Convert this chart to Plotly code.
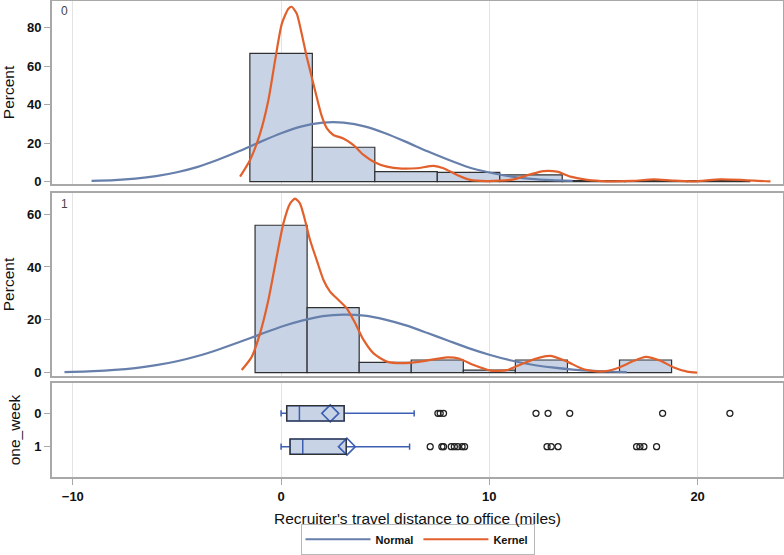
import plotly.graph_objects as go

# ---------------- data ----------------
# Histogram, one_week = 0 (bin width 3)
hist0_centers = [0, 3, 6, 9, 12, 15, 18, 21]
hist0_pct = [66.8, 17.9, 5.2, 4.8, 3.5, 0.6, 0.6, 0.6]
hist0_width = 3.0

# Histogram, one_week = 1 (bin width 2.5)
hist1_centers = [0, 2.5, 5, 7.5, 10, 12.5, 15, 17.5]
hist1_pct = [55.8, 24.6, 3.9, 4.8, 1.0, 4.8, 0.0, 4.8]
hist1_width = 2.5

# Normal curve, group 0
norm0_x = [-9.1, -8, -7, -6, -5, -4, -3, -2, -1, 0, 1, 2, 2.5, 3, 4, 5, 6, 7, 8, 9, 10, 11, 12, 13, 14]
norm0_y = [0.4, 0.8, 1.6, 2.9, 4.9, 7.7, 11.5, 15.9, 20.7, 25.2, 28.8, 30.7, 31.0, 30.7, 28.8, 25.2,
           20.7, 15.9, 11.5, 7.5, 4.8, 2.8, 1.5, 0.8, 0.4]

# Kernel curve, group 0
kern0_x = [-1.97, -1.49, -1.01, -0.61, -0.29, 0.03, 0.35, 0.51, 0.75, 0.99, 1.23, 1.47, 1.71, 1.96,
           2.2, 2.51, 2.99, 3.48, 3.96, 4.44, 5.08, 5.8, 6.52, 7.32, 7.8, 8.45, 9.09, 9.89, 10.5,
           11.17, 11.97, 12.6, 13.25, 13.9, 14.7, 15.66, 16.9, 17.9, 18.86, 19.8, 21.1, 22.07, 22.7, 23.5]
kern0_y = [2.6, 11.3, 25.0, 42.4, 63.0, 82.0, 90.0, 91.0, 87.5, 77.0, 65.0, 54.5, 44.0, 33.8,
           27.7, 24.3, 22.5, 19.0, 13.9, 10.4, 7.8, 6.8, 7.0, 8.2, 7.0, 3.5, 0.9, 0.3, 0.5,
           1.2, 3.8, 5.5, 5.2, 2.6, 0.9, 0.2, 0.4, 1.2, 0.5, 0.2, 1.2, 0.9, 0.5, 0.2]

# Normal curve, group 1
norm1_x = [-10.4, -10, -9, -8, -7, -6, -5, -4, -3, -2, -1, 0, 1, 2, 3, 4, 5, 6, 7, 8, 9, 10, 11,
           12, 13, 14, 15, 16, 16.6]
norm1_y = [0.24, 0.32, 0.59, 1.05, 1.77, 2.85, 4.35, 6.34, 8.8, 11.6, 14.5, 17.4, 19.7, 21.4, 22.0,
           21.6, 20.1, 17.9, 15.1, 12.2, 9.3, 6.8, 4.7, 3.1, 2.0, 1.2, 0.67, 0.36, 0.24]

# Kernel curve, group 1
kern1_x = [-1.89, -1.41, -1.01, -0.61, -0.21, 0.11, 0.43, 0.67, 0.91, 1.15, 1.39, 1.71, 2.04, 2.36,
           2.76, 3.16, 3.56, 3.96, 4.44, 5.08, 5.8, 6.68, 7.97, 8.53, 9.25, 10.05, 10.85, 11.65,
           12.45, 13.01, 13.73, 14.53, 15.34, 16.14, 16.94, 17.5, 18.22, 18.86, 19.5, 19.98]
kern1_y = [1.0, 6.0, 14.9, 27.5, 43.9, 56.5, 64.0, 65.9, 64.0, 57.7, 50.2, 42.6, 35.0, 30.6,
           27.5, 24.3, 18.7, 12.4, 7.3, 4.2, 3.6, 4.2, 5.8, 5.4, 2.9, 0.8, 1.0, 3.6,
           5.8, 6.3, 4.2, 1.3, 0.4, 1.7, 4.5, 6.0, 4.5, 2.0, 0.4, 0.0]

# Box plot statistics
box_groups = [0, 1]
box_labels = ["0", "1"]
box_min = [0.0, 0.0]
box_q1 = [0.27, 0.43]
box_median = [0.88, 1.04]
box_q3 = [3.03, 3.13]
box_whisk_hi = [6.39, 6.17]
box_mean = [2.36, 3.16]
outliers0 = [7.53, 7.64, 7.8, 12.24, 12.82, 13.86, 18.32, 21.55]
outliers1 = [7.16, 7.72, 7.8, 8.17, 8.32, 8.48, 8.69, 8.81, 12.77, 12.97, 13.3,
             17.07, 17.23, 17.42, 18.03]

x_ticks = [-10, 0, 10, 20]

# ---------------- style ----------------
BAR_FILL = "#c8d4e6"
BAR_LINE = "#303030"
NORM_COL = "#667fab"
KERN_COL = "#e2602c"
BOX_BLUE = "#3c5fb4"
FRAME = "#a8a8a8"
GRID = "#e4e4e4"
FONT = "Liberation Sans, Arial, sans-serif"

fig = go.Figure()

def add_panel(xa, ya, centers, pct, width, nx, ny, kx, ky, show):
    fig.add_trace(go.Bar(x=centers, y=pct, width=[width] * len(centers),
                         marker=dict(color=BAR_FILL, line=dict(color=BAR_LINE, width=1.2)),
                         xaxis=xa, yaxis=ya, showlegend=False, hoverinfo="skip"))
    fig.add_trace(go.Scatter(x=nx, y=ny, mode="lines", name="Normal", legendgroup="n",
                             line=dict(color=NORM_COL, width=2.2, shape="spline", smoothing=0.6),
                             xaxis=xa, yaxis=ya, showlegend=show))
    fig.add_trace(go.Scatter(x=kx, y=ky, mode="lines", name="Kernel", legendgroup="k",
                             line=dict(color=KERN_COL, width=2.2, shape="spline", smoothing=0.6),
                             xaxis=xa, yaxis=ya, showlegend=show))

add_panel("x", "y", hist0_centers, hist0_pct, hist0_width, norm0_x, norm0_y, kern0_x, kern0_y, True)
add_panel("x2", "y2", hist1_centers, hist1_pct, hist1_width, norm1_x, norm1_y, kern1_x, kern1_y, False)

BOX_W = 0.46
for i, g in enumerate(box_groups):
    fig.add_trace(go.Box(y=[g], q1=[box_q1[i]], median=[box_median[i]], q3=[box_q3[i]],
                         lowerfence=[box_min[i]], upperfence=[box_whisk_hi[i]],
                         orientation="h", width=BOX_W, whiskerwidth=0.4, boxpoints=False,
                         fillcolor=BAR_FILL, line=dict(color=BOX_BLUE, width=1.5),
                         xaxis="x3", yaxis="y3", showlegend=False, hoverinfo="skip"))
    fig.add_shape(type="rect", xref="x3", yref="y3", x0=box_q1[i], x1=box_q3[i],
                  y0=g - BOX_W / 2, y1=g + BOX_W / 2,
                  line=dict(color=BAR_LINE, width=1.2), fillcolor="rgba(0,0,0,0)")
    fig.add_trace(go.Scatter(x=[box_mean[i]], y=[g], mode="markers",
                             marker=dict(symbol="diamond-open", size=13, color=BOX_BLUE,
                                         line=dict(width=1.6, color=BOX_BLUE)),
                             xaxis="x3", yaxis="y3", showlegend=False, hoverinfo="skip"))

for g, outs in zip(box_groups, [outliers0, outliers1]):
    fig.add_trace(go.Scatter(x=outs, y=[g] * len(outs), mode="markers",
                             marker=dict(symbol="circle-open", size=6, color="#222",
                                         line=dict(width=1.3, color="#222")),
                             xaxis="x3", yaxis="y3", showlegend=False, hoverinfo="skip"))

xr = [-11.0, 24.1]
tickfont = dict(family=FONT, size=13, color="#111", weight="bold")
titlefont = dict(family=FONT, size=15.5, color="#111")

def xaxis(anchor, bottom):
    d = dict(range=xr, anchor=anchor, showline=True, mirror=True, linecolor=FRAME, linewidth=2,
             showgrid=True, gridcolor=GRID, gridwidth=1, tickvals=x_ticks, zeroline=False,
             tickfont=tickfont, automargin=False)
    if bottom:
        d.update(ticks="outside", ticklen=6, tickcolor=FRAME, showticklabels=True,
                 title=dict(text="Recruiter's travel distance to office (miles)", font=titlefont,
                            standoff=11))
    else:
        d.update(ticks="", showticklabels=False)
    return d

def yaxis(anchor, dom, rng, tv, tt, title):
    return dict(domain=dom, range=rng, anchor=anchor, showline=True, mirror=True, linecolor=FRAME,
                linewidth=2, showgrid=False, zeroline=False, tickvals=tv, ticktext=tt,
                ticks="outside", ticklen=6, tickcolor=FRAME, tickfont=tickfont, automargin=False,
                title=dict(text=title, font=titlefont, standoff=10))

fig.update_layout(
    width=784, height=555,
    margin=dict(l=52, r=1, t=0, b=78, autoexpand=False),
    paper_bgcolor="white", plot_bgcolor="white",
    font=dict(family=FONT, color="#111"),
    barmode="overlay",
    xaxis=xaxis("y", False),
    xaxis2=xaxis("y2", False),
    xaxis3=xaxis("y3", True),
    yaxis=yaxis("x", [0.6143, 0.9979], [-1.2, 94], [0, 20, 40, 60, 80], None, "Percent"),
    yaxis2=yaxis("x2", [0.2117, 0.5954], [-1.25, 68], [0, 20, 40, 60], None, "Percent"),
    yaxis3=yaxis("x3", [0, 0.1971], [1.91, -0.91], box_groups, box_labels, "one_week"),
    legend=dict(orientation="h", x=0.5, xanchor="center", y=-0.098, yanchor="top",
                bordercolor="#b8b8b8", borderwidth=1,
                font=dict(family=FONT, size=11, color="#111", weight="bold"),
                itemwidth=65, tracegroupgap=0),
    showlegend=True,
)

fig.add_annotation(text="0", xref="paper", yref="paper", x=0.010, y=0.995, xanchor="left",
                   yanchor="top", showarrow=False, font=dict(family=FONT, size=12, color="#444"))
fig.add_annotation(text="1", xref="paper", yref="paper", x=0.010, y=0.592, xanchor="left",
                   yanchor="top", showarrow=False, font=dict(family=FONT, size=12, color="#444"))

fig.write_html("out.html", config={"displayModeBar": False},
               post_script="document.body.style.margin='0';")
